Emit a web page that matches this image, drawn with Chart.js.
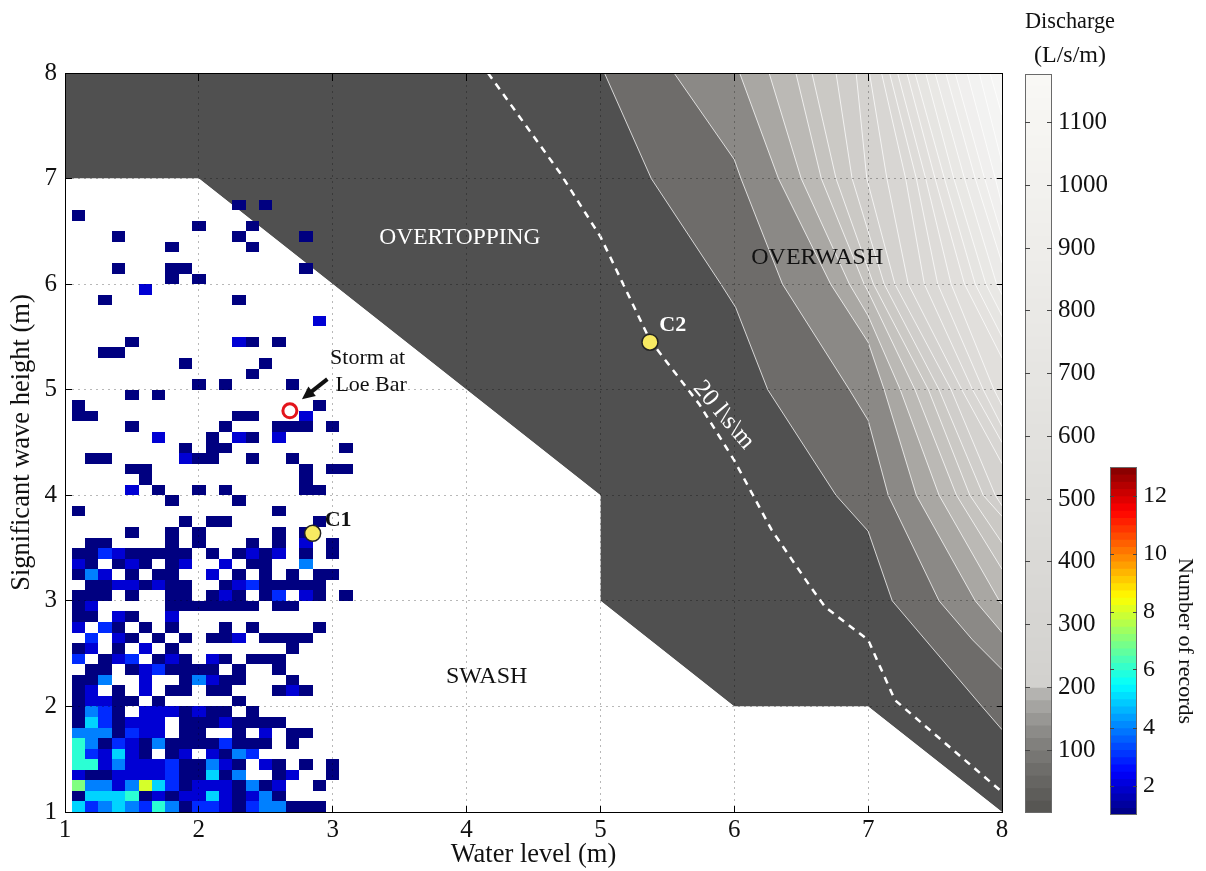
<!DOCTYPE html>
<html lang="en">
<head>
<meta charset="UTF-8">
<title>Swash / overtopping / overwash regimes</title>
<script src="https://cdn.jsdelivr.net/npm/chart.js@4.4.1/dist/chart.umd.min.js"></script>
<style>
  body { margin: 0; background: #fff; width: 1206px; height: 871px; overflow: hidden; position: relative; }
  canvas { position: absolute; }
  #mainChart { left: 0; top: 0; }
  #dischargeBar { left: 975px; top: 0; }
  #recordsBar { left: 1095px; top: 440px; }
</style>
</head>
<body>
<canvas id="mainChart" width="1012" height="871"></canvas>
<canvas id="dischargeBar" width="140" height="871"></canvas>
<canvas id="recordsBar" width="111" height="431"></canvas>
<script>
const serif = "'Liberation Serif', 'Times New Roman', serif";
Chart.defaults.font.family = serif;
Chart.defaults.color = '#111';

// ---- axes ----
const xTicks = [1, 2, 3, 4, 5, 6, 7, 8];
const yTicks = [1, 2, 3, 4, 5, 6, 7, 8];

// ---- swash / overtopping boundary ----
const swashX = [1, 2, 5, 5, 6, 7, 8];
const swashY = [7, 7, 4, 3, 2, 2, 1];

// ---- 20 l/s/m threshold (dashed) ----
const dashX = [4.16, 4.70, 5.00, 5.37, 5.74, 6.00, 6.28, 6.56, 6.68, 7.00, 7.20, 8.00];
const dashY = [8.00, 7.05, 6.45, 5.47, 4.86, 4.33, 3.67, 3.15, 2.94, 2.63, 2.06, 1.19];

// ---- discharge contours (L/s/m), vertices ----
const contourLevels = [50, 100, 150, 200, 250, 300, 350, 400, 450, 500, 550, 600, 650, 700, 750, 800, 850, 900, 950, 1000, 1050];
const contourPaths = [
  [[5.03,8],[5.38,7],[5.9,6],[6.01,5.78],[6.25,5],[6.76,4],[7.0,3.66],[7.18,3],[7.85,2],[8,1.78]],
  [[5.55,8],[6.0,7.18],[6.05,7],[6.36,6],[6.86,5],[7.0,4.71],[7.15,4],[7.53,3],[7.78,2.63],[8,2.35]],
  [[6.04,8],[6.33,7],[6.72,6],[7.0,5.45],[7.12,5],[7.36,4],[7.8,3],[8,2.7]],
  [[6.26,8],[6.5,7],[6.86,6],[7.0,5.7],[7.24,5],[7.53,4],[7.98,3],[8,2.97]],
  [[6.46,8],[6.65,7],[6.97,6],[7.0,5.93],[7.35,5],[7.66,4],[8,3.3]],
  [[6.58,8],[6.76,7],[7.04,6],[7.45,5],[7.76,4],[8,3.55]],
  [[6.76,8],[6.88,7],[7.12,6],[7.53,5],[7.86,4],[8,3.8]],
  [[6.91,8],[6.99,7],[7.2,6],[7.62,5],[7.95,4],[8,3.9]],
  [[7.01,8],[7.14,7],[7.3,6],[7.7,5],[8,4.3]],
  [[7.1,8],[7.28,7],[7.42,6],[7.78,5],[8,4.5]],
  [[7.16,8],[7.36,7],[7.52,6],[7.86,5],[8,4.65]],
  [[7.22,8],[7.43,7],[7.62,6],[7.94,5],[8,4.85]],
  [[7.29,8],[7.5,7],[7.72,6],[8,5.3]],
  [[7.35,8],[7.57,7],[7.8,6],[8,5.5]],
  [[7.43,8],[7.64,7],[7.88,6],[8,5.7]],
  [[7.5,8],[7.72,7],[7.96,6],[8,5.9]],
  [[7.58,8],[7.8,7],[8,6.2]],
  [[7.65,8],[7.87,7],[8,6.45]],
  [[7.74,8],[7.95,7],[8,6.75]],
  [[7.83,8],[8,7.15]],
  [[7.91,8],[8,7.6]]
];
const bandGrays = ['#6e6c6a','#8b8986','#a9a7a3','#bbb9b5','#c5c3bf','#cbc9c5','#d0cecb','#d4d2cf','#d8d6d3',
  '#dbd9d6','#dedcd9','#e1dfdc','#e4e2df','#e6e5e2','#e9e8e5','#ebeae8','#eeedeb','#f0efee','#f2f2f1','#f4f4f3','#f6f6f5'];

// ---- record counts per 0.1 m x 0.1 m cell; row 0 = Hs 1.0-1.1 m, col 0 centred on 1.1 m ----
const cellX0 = 1.05, cellY0 = 1.0, cellStep = 0.1;
const heatRows = [
  "5345436413321344111..",
  "1555612122521241.....",
  "7442485312221412..1..",
  "2112222311514..12..1.",
  "6624222311421.21.1.1.",
  "632521.12.2143.......",
  "641321411113111.1....",
  "4441322.11..1.2.11...",
  "1531222.11121111.....",
  "1431.2221211.1.......",
  "12211.1.....1........",
  "12.1.2.11.11...121...",
  "114..2..14211...1....",
  ".11.1231111.1..1.....",
  "3.123.121.21.111.....",
  "12.1.2.1........1....",
  ".3.21.1.1.112.1111...",
  "2.31.1.1...1.1....1..",
  "11.21..2.............",
  "12.....1111111.11....",
  "111.1..11.121.13.21.1",
  ".11221211..12311111..",
  "142.1.11..2.1.1.1.11.",
  "21.121.12..2.11..4...",
  "113211111.1.1212.1.1.",
  ".11....1.1...1.1.2.1.",
  "....1..1.1.....1.1...",
  "........1.11......1..",
  "1..............1.....",
  ".......1....1........",
  "....2.1..1.1.....11..",
  ".....1...........1...",
  "....11...........1.11",
  ".11.....211..1..1....",
  "........1.11........1",
  "......2...1.21.2.....",
  "....1......1...111.1.",
  "11..........11...2...",
  "1.................1..",
  "....1.1..............",
  ".........1.1....1....",
  ".............1.......",
  "........1.....1......",
  "..11.................",
  "....1.......21.1.....",
  ".....................",
  "..................2..",
  ".....................",
  "..1.........1........",
  ".....2...............",
  ".......1.1...........",
  "...1...11........1...",
  ".....................",
  ".......1.....1.......",
  "...1........1....1...",
  ".........1...1.......",
  "1....................",
  "............1.1......"
];

// ---- marked cases ----
const caseNames = ['C1', 'C2'];
const caseX = [2.85, 5.37];
const caseY = [3.64, 5.45];
const stormX = 2.68, stormY = 4.80;

// ---- colour bars ----
const dischargeMin = 0, dischargeMax = 1177;
const dischargeTicks = [100, 200, 300, 400, 500, 600, 700, 800, 900, 1000, 1100];
const recMin = 1, recMax = 13;
const recordTicks = [2, 4, 6, 8, 10, 12];

function jet(v) {
  const t = Math.min(1, Math.max(0, (v - recMin) / (recMax - recMin)));
  const c = u => Math.round(255 * Math.min(1, Math.max(0, u)));
  return `rgb(${c(Math.min(4 * t - 1.5, -4 * t + 4.5))},${c(Math.min(4 * t - 0.5, -4 * t + 3.5))},${c(Math.min(4 * t + 0.5, -4 * t + 2.5))})`;
}

const lowGrays = [0x57, 0x5e, 0x66, 0x6e, 0x77, 0x81, 0x8c, 0x98, 0xa5, 0xb4];
function dischargeColor(v) {
  let g;
  if (v < 200) g = lowGrays[Math.floor(v / 20)];
  else g = Math.round(0xd2 + (v - 200) / (dischargeMax - 200) * (0xf9 - 0xd2));
  return `rgb(${g},${g - 1},${g - 4})`;
}

const toPts = (xs, ys) => xs.map((v, i) => ({ x: v, y: ys[i] }));

// ---- plugins ----
const heatLayer = {
  id: 'heatLayer',
  afterDatasetDraw(chart, args) {
    if (chart.data.datasets[args.index].label !== '20 l/s/m') return;
    const { ctx, scales: { x, y } } = chart;
    ctx.save();
    heatRows.forEach((row, j) => {
      for (let i = 0; i < row.length; i++) {
        if (row[i] === '.') continue;
        const n = parseInt(row[i], 10);
        const xl = Math.round(x.getPixelForValue(cellX0 + i * cellStep));
        const xr = Math.round(x.getPixelForValue(cellX0 + (i + 1) * cellStep));
        const yt = Math.round(y.getPixelForValue(cellY0 + (j + 1) * cellStep));
        const yb = Math.round(y.getPixelForValue(cellY0 + j * cellStep));
        ctx.fillStyle = jet(n);
        ctx.fillRect(xl, yt, xr - xl, yb - yt);
      }
    });
    ctx.restore();
  }
};

const textNotes = [
  { text: 'OVERTOPPING', x: 3.95, y: 6.44, color: '#fff', size: 23.5, align: 'center' },
  { text: 'OVERWASH', x: 6.62, y: 6.25, color: '#111', size: 24, align: 'center' },
  { text: 'SWASH', x: 4.15, y: 2.28, color: '#111', size: 24, align: 'center' },
  { text: 'Storm at', x: 2.98, y: 5.30, color: '#111', size: 22, align: 'left' },
  { text: 'Loe Bar', x: 3.02, y: 5.045, color: '#111', size: 22, align: 'left' },
  { text: 'C1', x: 2.94, y: 3.76, color: '#111', size: 22, align: 'left', bold: true },
  { text: 'C2', x: 5.44, y: 5.61, color: '#fff', size: 22, align: 'left', bold: true },
  { text: '20 l\\s\\m', x: 5.92, y: 4.76, color: '#fff', size: 25, align: 'center', rot: 50 }
];
const arrowFrom = [2.96, 5.10], arrowTo = [2.77, 4.91];

const annotations = {
  id: 'annotations',
  afterDraw(chart) {
    const { ctx, scales: { x, y } } = chart;
    textNotes.forEach(t => {
      ctx.save();
      ctx.font = `${t.bold ? 'bold ' : ''}${t.size}px ${serif}`;
      ctx.fillStyle = t.color;
      ctx.textAlign = t.align;
      ctx.textBaseline = 'middle';
      ctx.translate(x.getPixelForValue(t.x), y.getPixelForValue(t.y));
      if (t.rot) ctx.rotate(t.rot * Math.PI / 180);
      ctx.fillText(t.text, 0, 0);
      ctx.restore();
    });
    // arrow pointing at the storm
    const x1 = x.getPixelForValue(arrowFrom[0]), y1 = y.getPixelForValue(arrowFrom[1]);
    const x2 = x.getPixelForValue(arrowTo[0]), y2 = y.getPixelForValue(arrowTo[1]);
    const ang = Math.atan2(y2 - y1, x2 - x1);
    ctx.save();
    ctx.strokeStyle = '#111';
    ctx.fillStyle = '#111';
    ctx.lineWidth = 4;
    ctx.beginPath();
    ctx.moveTo(x1, y1);
    ctx.lineTo(x2 - 9 * Math.cos(ang), y2 - 9 * Math.sin(ang));
    ctx.stroke();
    ctx.beginPath();
    ctx.moveTo(x2, y2);
    ctx.lineTo(x2 - 13 * Math.cos(ang) + 6 * Math.sin(ang), y2 - 13 * Math.sin(ang) - 6 * Math.cos(ang));
    ctx.lineTo(x2 - 13 * Math.cos(ang) - 6 * Math.sin(ang), y2 - 13 * Math.sin(ang) + 6 * Math.cos(ang));
    ctx.closePath();
    ctx.fill();
    ctx.restore();
  }
};

const frame = {
  id: 'frame',
  afterDatasetsDraw(chart) {
    const { ctx, chartArea: a } = chart;
    ctx.save();
    ctx.strokeStyle = '#6a6a6a';
    ctx.lineWidth = 1;
    ctx.strokeRect(Math.round(a.left) + 0.5, Math.round(a.top) + 0.5, Math.round(a.right - a.left) - 1, Math.round(a.bottom - a.top) - 1);
    ctx.restore();
  }
};

// ---- main chart ----
const datasets = [];
datasets.push({ label: 'overtopping', data: toPts(swashX, swashY), fill: 'end', backgroundColor: '#505050', borderWidth: 0, pointRadius: 0, order: 1000 });
datasets.push({ label: 'swash', data: toPts(swashX, swashY), fill: 'start', backgroundColor: '#ffffff', borderWidth: 0, pointRadius: 0, order: 999 });
contourPaths.forEach((path, k) => {
  datasets.push({
    label: 'q' + contourLevels[k],
    data: path.map(p => ({ x: p[0], y: p[1] })),
    fill: 'end', backgroundColor: bandGrays[k],
    borderColor: 'rgba(255,255,255,0.75)', borderWidth: 1, pointRadius: 0, order: 900 - k
  });
});
datasets.push({ label: '20 l/s/m', data: toPts(dashX, dashY), fill: false, borderColor: '#ffffff', borderWidth: 2.5, borderDash: [7, 6], pointRadius: 0, order: 10 });
datasets.push({ label: 'cases', data: toPts(caseX, caseY), showLine: false, pointRadius: 8, pointBackgroundColor: '#f8ea62', pointBorderColor: '#222', pointBorderWidth: 1.5, order: 2 });
datasets.push({ label: 'storm', data: [{ x: stormX, y: stormY }], showLine: false, pointRadius: 7, pointBackgroundColor: '#ffffff', pointBorderColor: '#e3141b', pointBorderWidth: 3, order: 1 });

const setTicks = vals => s => { s.ticks = vals.map(v => ({ value: v })); };
const plain = v => String(v);
const dotted = { color: 'rgba(0,0,0,0.28)', lineWidth: 1, drawTicks: false, z: 1 };

new Chart(document.getElementById('mainChart'), {
  type: 'line',
  data: { datasets },
  options: {
    responsive: false, animation: false, events: [],
    layout: { padding: 0 },
    plugins: { legend: { display: false }, tooltip: { enabled: false } },
    scales: {
      x: {
        type: 'linear', position: 'bottom', min: 1, max: 8,
        afterBuildTicks: setTicks(xTicks), afterFit: s => { s.height = 59; },
        ticks: { font: { size: 25 }, padding: 3, color: '#111', maxRotation: 0, callback: plain },
        grid: dotted,
        border: { display: true, color: '#000', width: 1, dash: [2, 4], z: 2 },
        title: { display: true, text: 'Water level (m)', font: { size: 26.5 }, color: '#111', padding: { top: 0, bottom: 0 } }
      },
      x2: {
        type: 'linear', position: 'top', min: 1, max: 8,
        afterBuildTicks: setTicks(xTicks), afterFit: s => { s.height = 73; },
        ticks: { display: false },
        grid: { color: '#000', lineWidth: 1, drawTicks: false, z: 1 },
        border: { display: true, color: '#000', width: 1, dash: [7, 725], z: 2 }
      },
      y: {
        type: 'linear', position: 'left', min: 1, max: 8,
        afterBuildTicks: setTicks(yTicks), afterFit: s => { s.width = 65; },
        ticks: { font: { size: 25 }, padding: 8, color: '#111', callback: plain },
        grid: dotted,
        border: { display: true, color: '#000', width: 1, dash: [2, 4], z: 2 },
        title: { display: true, text: 'Significant wave height (m)', font: { size: 26.5 }, color: '#111', padding: { top: 6, bottom: 0 } }
      },
      y2: {
        type: 'linear', position: 'right', min: 1, max: 8,
        afterBuildTicks: setTicks(yTicks), afterFit: s => { s.width = 8; },
        ticks: { display: false },
        grid: { color: '#000', lineWidth: 1, drawTicks: false, z: 1 },
        border: { display: true, color: '#000', width: 1, dash: [7, 925], z: 2 }
      }
    }
  },
  plugins: [heatLayer, annotations]
});

// ---- discharge colour bar ----
const dischargeSets = [];
for (let lo = dischargeMin; lo < dischargeMax; lo += 20) {
  dischargeSets.push({ data: [[lo, dischargeMax]], backgroundColor: dischargeColor(lo + 10), borderWidth: 0, barPercentage: 1, categoryPercentage: 1, grouped: false });
}
dischargeSets.reverse();

new Chart(document.getElementById('dischargeBar'), {
  type: 'bar',
  data: { labels: [''], datasets: dischargeSets },
  options: {
    responsive: false, animation: false, events: [],
    layout: { padding: { left: 50, top: 0, right: 0, bottom: 58 } },
    plugins: {
      legend: { display: false }, tooltip: { enabled: false },
      title: { display: true, text: ['Discharge', '(L/s/m)'], color: '#111', font: { size: 24, weight: 'normal', lineHeight: 1.4 }, padding: { top: 5, bottom: 2 } }
    },
    scales: {
      x: { display: false },
      y: {
        position: 'right', min: dischargeMin, max: dischargeMax,
        afterBuildTicks: setTicks(dischargeTicks), afterFit: s => { s.width = 63; },
        ticks: { font: { size: 25 }, padding: 6, color: '#111', callback: plain },
        grid: { color: '#444', lineWidth: 1, drawTicks: false, z: 1 },
        border: { display: false, dash: [5, 17] }
      }
    }
  },
  plugins: [frame]
});

// ---- number-of-records colour bar ----
const recordSets = [];
for (let lo = recMin; lo < recMax - 1e-9; lo += 0.25) {
  recordSets.push({ data: [[lo, recMax]], backgroundColor: jet(lo + 0.125), borderWidth: 0, barPercentage: 1, categoryPercentage: 1, grouped: false });
}
recordSets.reverse();

new Chart(document.getElementById('recordsBar'), {
  type: 'bar',
  data: { labels: [''], datasets: recordSets },
  options: {
    responsive: false, animation: false, events: [],
    layout: { padding: { left: 15, top: 27, right: 0, bottom: 56 } },
    plugins: { legend: { display: false }, tooltip: { enabled: false } },
    scales: {
      x: { display: false },
      y: {
        position: 'right', min: recMin, max: recMax,
        afterBuildTicks: setTicks(recordTicks), afterFit: s => { s.width = 69; },
        ticks: { font: { size: 24 }, padding: 6, color: '#111', callback: plain },
        grid: { color: '#444', lineWidth: 1, drawTicks: false, z: 1 },
        border: { display: false, dash: [4, 19] },
        title: { display: true, text: 'Number of records', font: { size: 22 }, color: '#111', padding: { top: 8, bottom: 0 } }
      }
    }
  },
  plugins: [frame]
});
</script>
</body>
</html>
